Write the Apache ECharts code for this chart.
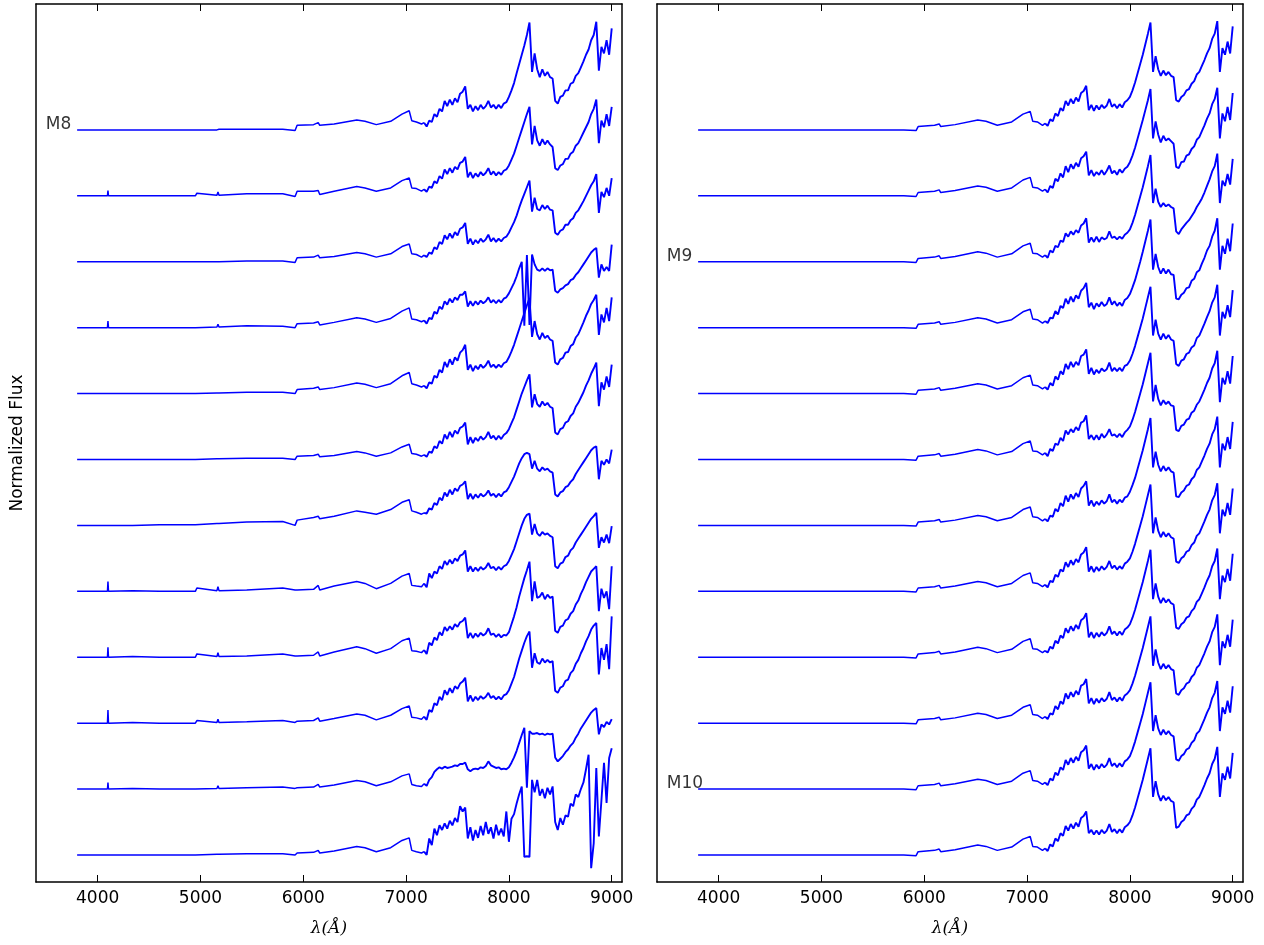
<!DOCTYPE html>
<html>
<head>
<meta charset="utf-8">
<script src="https://cdn.jsdelivr.net/npm/echarts@6/dist/echarts.min.js"></script>
<style>
  html, body { margin: 0; padding: 0; background: #fff; }
  #main { width: 1264px; height: 945px; }
</style>
</head>
<body>
<div id="main"></div>
<script>
// wavelength grid (Angstrom): blue part then red part
var waveBlue = [3800, 4000, 4095, 4100, 4105, 4340, 4600, 4950, 4965, 5160, 5170, 5180, 5450, 5800, 5920,
  5940, 6100, 6145, 6160, 6300, 6520, 6600, 6710, 6850, 6960, 7030, 7055, 7100, 7150, 7175];
var waveRed = [7200, 7225, 7250, 7275, 7300, 7325, 7350, 7375, 7400, 7425,
  7450, 7475, 7500, 7525, 7550, 7575, 7600, 7625, 7650, 7675,
  7700, 7725, 7750, 7775, 7800, 7825, 7850, 7875, 7900, 7925,
  7950, 7975, 8000, 8025, 8050, 8075, 8100, 8125, 8150, 8175,
  8200, 8225, 8250, 8275, 8300, 8325, 8350, 8375, 8400, 8425,
  8450, 8475, 8500, 8525, 8550, 8575, 8600, 8625, 8650, 8675,
  8700, 8725, 8750, 8775, 8800, 8825, 8850, 8875, 8900, 8925,
  8950, 8975, 9000];

var tickValues = [4000, 5000, 6000, 7000, 8000, 9000];

// left panel, top to bottom
var left00 = [0, 0, 0, 0.02, 0, 0, 0, 0, 0.01, 0, 0.02, 0.01, 0.01, 0.01, -0.01, 0.07, 0.08, 0.11, 0.07, 0.09, 0.15, 0.13, 0.08, 0.13, 0.24, 0.29, 0.14, 0.12, 0.09, 0.11,
  0.05,0.14,0.12,0.24,0.20,0.32,0.28,0.44,0.36,0.46,
  0.38,0.48,0.42,0.55,0.58,0.66,0.32,0.38,0.28,0.36,
  0.30,0.38,0.32,0.36,0.44,0.34,0.38,0.32,0.38,0.33,
  0.40,0.42,0.50,0.60,0.71,0.86,1.00,1.14,1.28,1.44,
  1.63,0.88,1.16,0.92,0.80,0.92,0.82,0.88,0.80,0.78,
  0.44,0.40,0.50,0.52,0.60,0.60,0.70,0.72,0.82,0.86,
  0.95,1.04,1.14,1.22,1.36,1.44,1.64,0.90,1.26,1.16,
  1.36,1.14,1.54];
var left01 = [0, 0, 0, 0.08, 0, 0, 0, 0, 0.04, 0.01, 0.06, 0.01, 0.03, 0.03, -0.01, 0.07, 0.07, 0.08, 0.02, 0.07, 0.14, 0.12, 0.07, 0.12, 0.23, 0.27, 0.12, 0.11, 0.07, 0.10,
  0.06,0.14,0.12,0.22,0.19,0.30,0.26,0.40,0.33,0.42,
  0.35,0.44,0.40,0.50,0.52,0.59,0.28,0.36,0.27,0.34,
  0.29,0.36,0.31,0.35,0.42,0.32,0.37,0.31,0.36,0.32,
  0.38,0.40,0.46,0.55,0.64,0.76,0.88,1.00,1.12,1.24,
  1.35,0.78,1.06,0.84,0.76,0.86,0.78,0.84,0.78,0.74,
  0.42,0.39,0.46,0.48,0.56,0.56,0.64,0.67,0.76,0.80,
  0.88,0.96,1.04,1.12,1.24,1.32,1.46,0.80,1.14,1.04,
  1.24,1.06,1.35];
var left02 = [0, 0, 0, 0.01, 0, 0, 0, 0, 0.01, 0, 0.02, 0, 0.01, 0.01, -0.01, 0.06, 0.07, 0.10, 0.06, 0.08, 0.14, 0.12, 0.07, 0.12, 0.23, 0.27, 0.12, 0.11, 0.07, 0.10,
  0.07,0.14,0.12,0.22,0.19,0.30,0.27,0.40,0.34,0.43,
  0.36,0.45,0.40,0.50,0.52,0.59,0.27,0.35,0.26,0.33,
  0.28,0.35,0.30,0.34,0.41,0.31,0.36,0.30,0.35,0.31,
  0.36,0.38,0.44,0.52,0.60,0.70,0.82,0.93,1.03,1.13,
  1.23,0.76,0.97,0.80,0.78,0.86,0.80,0.85,0.79,0.78,
  0.44,0.41,0.47,0.49,0.56,0.56,0.63,0.66,0.74,0.78,
  0.85,0.92,1.00,1.08,1.16,1.22,1.33,0.74,1.06,0.98,
  1.12,1.00,1.27];
var left03 = [0, 0, 0, 0.10, 0, 0, 0, 0, 0.03, 0.01, 0.05, 0.01, 0.03, 0.02, 0.00, 0.06, 0.07, 0.09, 0.04, 0.08, 0.15, 0.13, 0.08, 0.14, 0.25, 0.30, 0.13, 0.12, 0.09, 0.11,
  0.06,0.15,0.13,0.24,0.21,0.32,0.28,0.40,0.35,0.44,
  0.38,0.46,0.42,0.50,0.50,0.55,0.32,0.40,0.33,0.40,
  0.35,0.41,0.37,0.40,0.46,0.38,0.42,0.37,0.42,0.38,
  0.44,0.46,0.52,0.60,0.68,0.78,0.90,1.00,0.03,1.10,
  0.04,1.11,0.96,0.88,0.86,0.90,0.86,0.90,0.87,0.88,
  0.56,0.53,0.58,0.60,0.64,0.66,0.72,0.74,0.80,0.84,
  0.90,0.96,1.02,1.08,1.14,1.18,1.21,0.76,0.96,0.86,
  0.92,0.86,1.26];
var left04 = [0, 0, 0, 0.01, 0, 0, 0, 0, 0.03, 0.01, 0.04, 0.01, 0.02, 0.02, 0, 0.06, 0.08, 0.10, 0.06, 0.09, 0.16, 0.14, 0.09, 0.15, 0.27, 0.32, 0.15, 0.13, 0.10, 0.12,
  0.08,0.17,0.15,0.27,0.24,0.36,0.32,0.48,0.40,0.52,
  0.44,0.55,0.50,0.62,0.66,0.74,0.36,0.44,0.34,0.42,
  0.37,0.44,0.39,0.43,0.50,0.40,0.44,0.39,0.44,0.40,
  0.46,0.48,0.55,0.64,0.74,0.86,0.98,1.10,1.22,1.34,
  1.45,0.86,1.10,0.90,0.82,0.92,0.84,0.88,0.82,0.80,
  0.47,0.44,0.52,0.54,0.62,0.63,0.72,0.75,0.85,0.90,
  0.99,1.08,1.18,1.26,1.36,1.42,1.50,0.89,1.20,1.08,
  1.30,1.10,1.46];
var left05 = [0, 0, 0, 0.01, 0, 0, 0, 0, 0.03, 0.01, 0.04, 0.01, 0.02, 0.02, 0, 0.05, 0.06, 0.08, 0.04, 0.06, 0.12, 0.10, 0.05, 0.10, 0.19, 0.23, 0.09, 0.08, 0.05, 0.07,
  0.04,0.12,0.10,0.20,0.17,0.28,0.24,0.38,0.31,0.42,
  0.34,0.44,0.39,0.48,0.50,0.56,0.23,0.34,0.25,0.33,
  0.28,0.35,0.30,0.34,0.42,0.32,0.36,0.30,0.36,0.31,
  0.37,0.40,0.46,0.55,0.64,0.76,0.88,1.00,1.10,1.20,
  1.29,0.79,0.99,0.84,0.80,0.88,0.82,0.86,0.80,0.78,
  0.41,0.38,0.46,0.48,0.56,0.58,0.66,0.70,0.80,0.86,
  0.94,1.02,1.12,1.20,1.30,1.38,1.47,0.81,1.17,1.06,
  1.26,1.10,1.44];
var left06 = [0, 0, 0, 0.01, 0, 0, 0.01, 0.01, 0.04, 0.03, 0.06, 0.03, 0.05, 0.06, 0.00, 0.08, 0.12, 0.14, 0.10, 0.14, 0.22, 0.20, 0.17, 0.24, 0.35, 0.39, 0.22, 0.20, 0.17, 0.19,
  0.18,0.26,0.24,0.34,0.31,0.42,0.38,0.50,0.44,0.54,
  0.47,0.56,0.52,0.60,0.62,0.67,0.40,0.48,0.40,0.47,
  0.42,0.48,0.44,0.47,0.53,0.45,0.48,0.43,0.48,0.44,
  0.50,0.52,0.58,0.66,0.74,0.84,0.94,1.02,1.08,1.10,
  1.08,0.86,0.98,0.86,0.82,0.88,0.84,0.86,0.82,0.80,
  0.47,0.44,0.50,0.52,0.58,0.60,0.66,0.70,0.78,0.84,
  0.90,0.96,1.02,1.08,1.14,1.18,1.20,0.70,0.98,0.92,
  1.00,0.94,1.15];
var left07 = [0, 0, 0, 0.15, 0, 0.01, 0, 0, 0.05, 0.01, 0.07, 0.01, 0.02, 0.05, 0.02, 0.02, 0.03, 0.09, 0.02, 0.08, 0.15, 0.12, 0.04, 0.12, 0.23, 0.27, 0.09, 0.08, 0.07, 0.12,
  0.06,0.27,0.20,0.30,0.27,0.38,0.34,0.46,0.40,0.48,
  0.42,0.50,0.46,0.54,0.56,0.62,0.30,0.38,0.30,0.36,
  0.31,0.37,0.33,0.36,0.43,0.35,0.37,0.32,0.37,0.33,
  0.38,0.40,0.46,0.55,0.64,0.76,0.88,1.00,1.10,1.16,
  1.18,0.86,1.02,0.88,0.84,0.90,0.86,0.88,0.84,0.82,
  0.38,0.35,0.42,0.44,0.52,0.54,0.62,0.66,0.74,0.80,
  0.86,0.92,0.98,1.04,1.10,1.14,1.19,0.66,0.82,0.74,
  0.86,0.73,0.99];
var left08 = [0, 0, 0, 0.15, 0, 0.01, 0, 0, 0.05, 0.01, 0.07, 0.01, 0.02, 0.05, 0.02, 0.02, 0.03, 0.08, 0.02, 0.08, 0.16, 0.13, 0.06, 0.13, 0.25, 0.29, 0.10, 0.09, 0.07, 0.11,
  0.05,0.22,0.18,0.30,0.26,0.38,0.33,0.46,0.40,0.47,
  0.42,0.50,0.46,0.53,0.55,0.60,0.29,0.37,0.29,0.36,
  0.31,0.37,0.33,0.36,0.44,0.34,0.36,0.31,0.35,0.30,
  0.34,0.33,0.38,0.50,0.62,0.76,0.92,1.06,1.20,1.32,
  1.45,0.85,1.15,0.90,0.92,0.98,0.88,0.95,0.90,0.92,
  0.40,0.37,0.46,0.48,0.56,0.58,0.66,0.70,0.80,0.86,
  0.96,1.04,1.14,1.22,1.30,1.34,1.38,0.70,1.04,0.90,
  1.00,0.73,1.38];
var left09 = [0, 0, 0, 0.20, 0, 0.01, 0, 0, 0.04, 0.01, 0.06, 0.01, 0.02, 0.04, 0.01, 0.03, 0.04, 0.08, 0.03, 0.07, 0.14, 0.12, 0.05, 0.12, 0.22, 0.26, 0.09, 0.08, 0.06, 0.10,
  0.05,0.20,0.17,0.30,0.27,0.40,0.35,0.50,0.43,0.53,
  0.46,0.56,0.52,0.60,0.63,0.69,0.33,0.42,0.33,0.40,
  0.35,0.41,0.37,0.40,0.46,0.38,0.41,0.36,0.40,0.36,
  0.42,0.44,0.50,0.60,0.70,0.84,0.98,1.10,1.22,1.32,
  1.39,0.84,1.06,0.92,0.90,0.98,0.92,0.96,0.92,0.94,
  0.49,0.46,0.54,0.56,0.64,0.66,0.76,0.80,0.90,0.96,
  1.06,1.14,1.24,1.32,1.42,1.48,1.52,0.74,1.14,0.96,
  1.20,0.82,1.62];
var left10 = [0, 0, 0, 0.10, 0, 0.01, 0, 0, 0.03, 0.01, 0.05, 0.01, 0.02, 0.03, 0.01, 0.02, 0.03, 0.07, 0.03, 0.06, 0.13, 0.11, 0.05, 0.11, 0.20, 0.23, 0.07, 0.05, 0.04, 0.08,
  0.05,0.14,0.18,0.26,0.30,0.33,0.31,0.34,0.32,0.33,
  0.34,0.36,0.35,0.38,0.38,0.40,0.30,0.27,0.30,0.31,
  0.30,0.33,0.32,0.35,0.42,0.36,0.34,0.32,0.33,0.30,
  0.31,0.30,0.33,0.40,0.48,0.58,0.70,0.82,0.93,0.02,
  0.88,0.84,0.84,0.85,0.83,0.84,0.82,0.84,0.83,0.84,
  0.48,0.42,0.46,0.50,0.56,0.60,0.66,0.70,0.78,0.84,
  0.92,0.98,1.04,1.10,1.16,1.20,1.23,0.83,0.98,0.94,
  1.02,0.98,1.06];
var left11 = [0, 0, 0, 0.01, 0, 0, 0, 0, 0.02, 0.01, 0.03, 0.01, 0.02, 0.02, 0.00, 0.03, 0.04, 0.07, 0.03, 0.06, 0.13, 0.11, 0.05, 0.11, 0.22, 0.26, 0.07, 0.05, 0.03, 0.05,
  0.00,0.25,0.15,0.40,0.30,0.45,0.38,0.48,0.40,0.52,
  0.45,0.56,0.50,0.74,0.66,0.72,0.25,0.42,0.22,0.38,
  0.26,0.44,0.30,0.50,0.32,0.42,0.25,0.46,0.30,0.40,
  0.28,0.66,0.20,0.55,0.62,0.78,0.92,1.04,-0.03,-0.02,
  -0.03,1.14,0.95,1.14,0.90,1.00,0.86,1.02,0.92,1.04,
  0.50,0.38,0.56,0.46,0.60,0.58,0.78,0.74,0.92,0.88,
  1.00,1.10,1.30,1.52,-0.20,0.18,1.32,0.28,0.83,1.40,
  0.79,1.47,1.62];

// right panel, top to bottom
var right00 = [0, 0, 0, 0.01, 0, 0, 0, 0, 0.01, 0, 0.01, 0, 0, 0, -0.01, 0.05, 0.07, 0.09, 0.05, 0.08, 0.15, 0.13, 0.07, 0.12, 0.24, 0.28, 0.13, 0.12, 0.07, 0.10,
  0.06,0.16,0.13,0.25,0.21,0.33,0.29,0.44,0.37,0.47,
  0.40,0.49,0.43,0.56,0.59,0.67,0.30,0.38,0.29,0.37,
  0.31,0.38,0.33,0.37,0.47,0.35,0.39,0.33,0.39,0.34,
  0.42,0.45,0.50,0.60,0.72,0.86,1.00,1.14,1.30,1.46,
  1.63,0.88,1.12,0.92,0.82,0.90,0.83,0.88,0.82,0.80,
  0.45,0.43,0.50,0.53,0.60,0.62,0.70,0.74,0.84,0.88,
  0.97,1.06,1.16,1.24,1.38,1.46,1.65,0.88,1.24,1.14,
  1.34,1.16,1.57];
var right01 = [0, 0, 0, 0.01, 0, 0, 0, 0, 0.01, 0, 0.01, 0, 0, 0, -0.01, 0.05, 0.07, 0.09, 0.05, 0.08, 0.15, 0.13, 0.07, 0.12, 0.24, 0.28, 0.13, 0.12, 0.07, 0.10,
  0.05,0.15,0.12,0.26,0.22,0.34,0.28,0.45,0.36,0.48,
  0.41,0.50,0.44,0.57,0.60,0.67,0.31,0.39,0.30,0.36,
  0.32,0.39,0.32,0.38,0.46,0.34,0.38,0.32,0.40,0.35,
  0.41,0.44,0.51,0.61,0.73,0.87,1.01,1.15,1.30,1.45,
  1.62,0.87,1.13,0.93,0.81,0.91,0.84,0.87,0.83,0.79,
  0.44,0.42,0.51,0.52,0.61,0.63,0.71,0.75,0.85,0.89,
  0.98,1.07,1.17,1.25,1.39,1.47,1.64,0.87,1.25,1.13,
  1.35,1.15,1.56];
var right02 = [0, 0, 0, 0.01, 0, 0, 0, 0, 0.01, 0, 0.01, 0, 0, 0, -0.01, 0.05, 0.07, 0.09, 0.05, 0.08, 0.15, 0.13, 0.07, 0.12, 0.24, 0.28, 0.13, 0.12, 0.07, 0.10,
  0.06,0.17,0.14,0.24,0.22,0.32,0.30,0.43,0.38,0.46,
  0.41,0.48,0.44,0.55,0.58,0.66,0.29,0.37,0.30,0.38,
  0.30,0.37,0.34,0.36,0.46,0.36,0.38,0.34,0.38,0.35,
  0.41,0.44,0.49,0.59,0.71,0.85,0.99,1.13,1.29,1.45,
  1.62,0.89,1.11,0.91,0.83,0.89,0.84,0.87,0.83,0.81,
  0.46,0.42,0.49,0.54,0.59,0.63,0.69,0.75,0.83,0.89,
  0.96,1.05,1.15,1.25,1.37,1.45,1.64,0.89,1.23,1.15,
  1.33,1.17,1.56];
var right03 = [0, 0, 0, 0.01, 0, 0, 0, 0, 0.01, 0, 0.01, 0, 0, 0, -0.01, 0.05, 0.07, 0.09, 0.05, 0.08, 0.15, 0.13, 0.07, 0.12, 0.24, 0.28, 0.13, 0.12, 0.07, 0.10,
  0.07,0.15,0.14,0.25,0.20,0.33,0.30,0.44,0.36,0.47,
  0.39,0.49,0.44,0.56,0.60,0.68,0.31,0.38,0.28,0.37,
  0.32,0.39,0.33,0.36,0.46,0.35,0.40,0.33,0.38,0.33,
  0.42,0.45,0.51,0.61,0.72,0.86,1.00,1.15,1.31,1.47,
  1.64,0.88,1.12,0.92,0.82,0.90,0.82,0.88,0.81,0.80,
  0.44,0.43,0.50,0.53,0.60,0.61,0.71,0.74,0.84,0.87,
  0.97,1.06,1.17,1.24,1.38,1.47,1.66,0.88,1.24,1.12,
  1.35,1.16,1.58];
var right04 = [0, 0, 0, 0.01, 0, 0, 0, 0, 0.01, 0, 0.01, 0, 0, 0, -0.01, 0.05, 0.07, 0.09, 0.05, 0.08, 0.15, 0.13, 0.07, 0.12, 0.24, 0.28, 0.13, 0.12, 0.07, 0.10,
  0.06,0.16,0.12,0.26,0.21,0.34,0.29,0.45,0.37,0.48,
  0.40,0.48,0.43,0.57,0.59,0.67,0.30,0.39,0.29,0.36,
  0.31,0.38,0.34,0.37,0.47,0.34,0.39,0.34,0.39,0.34,
  0.42,0.44,0.50,0.60,0.72,0.86,1.00,1.14,1.30,1.46,
  1.62,0.88,1.12,0.91,0.82,0.91,0.83,0.89,0.82,0.80,
  0.45,0.42,0.50,0.52,0.60,0.62,0.70,0.73,0.84,0.88,
  0.97,1.06,1.16,1.25,1.38,1.46,1.65,0.88,1.24,1.14,
  1.34,1.16,1.57];
var right05 = [0, 0, 0, 0.01, 0, 0, 0, 0, 0.01, 0, 0.01, 0, 0, 0, -0.01, 0.05, 0.07, 0.09, 0.05, 0.08, 0.15, 0.13, 0.07, 0.12, 0.24, 0.28, 0.13, 0.12, 0.07, 0.10,
  0.05,0.16,0.13,0.24,0.22,0.33,0.28,0.44,0.38,0.46,
  0.41,0.49,0.44,0.56,0.58,0.67,0.31,0.37,0.30,0.37,
  0.30,0.39,0.33,0.38,0.46,0.36,0.38,0.34,0.39,0.34,
  0.41,0.45,0.50,0.60,0.72,0.86,1.00,1.14,1.30,1.46,
  1.62,0.88,1.13,0.92,0.82,0.90,0.84,0.88,0.82,0.81,
  0.45,0.43,0.51,0.53,0.60,0.62,0.71,0.74,0.83,0.88,
  0.97,1.06,1.16,1.24,1.38,1.46,1.65,0.87,1.24,1.14,
  1.34,1.15,1.57];
var right06 = [0, 0, 0, 0.01, 0, 0, 0, 0, 0.01, 0, 0.01, 0, 0, 0, -0.01, 0.05, 0.07, 0.09, 0.05, 0.08, 0.15, 0.13, 0.07, 0.12, 0.24, 0.28, 0.13, 0.12, 0.07, 0.10,
  0.06,0.15,0.13,0.25,0.21,0.34,0.29,0.45,0.36,0.47,
  0.40,0.49,0.43,0.56,0.60,0.67,0.30,0.38,0.29,0.36,
  0.31,0.38,0.33,0.37,0.47,0.35,0.39,0.33,0.39,0.35,
  0.42,0.44,0.51,0.61,0.72,0.86,1.00,1.14,1.30,1.46,
  1.63,0.88,1.12,0.92,0.82,0.90,0.83,0.88,0.82,0.80,
  0.44,0.43,0.50,0.53,0.60,0.62,0.70,0.74,0.84,0.88,
  0.97,1.06,1.16,1.24,1.38,1.46,1.65,0.88,1.24,1.14,
  1.34,1.16,1.57];
var right07 = [0, 0, 0, 0.01, 0, 0, 0, 0, 0.01, 0, 0.01, 0, 0, 0, -0.01, 0.05, 0.07, 0.09, 0.05, 0.08, 0.15, 0.13, 0.07, 0.12, 0.24, 0.28, 0.13, 0.12, 0.07, 0.10,
  0.06,0.16,0.14,0.25,0.22,0.33,0.30,0.44,0.37,0.47,
  0.40,0.49,0.44,0.56,0.59,0.67,0.30,0.38,0.29,0.37,
  0.31,0.38,0.33,0.37,0.46,0.35,0.39,0.33,0.38,0.34,
  0.42,0.45,0.50,0.60,0.72,0.86,1.00,1.14,1.30,1.46,
  1.62,0.88,1.12,0.92,0.82,0.90,0.83,0.88,0.82,0.80,
  0.45,0.43,0.50,0.53,0.60,0.62,0.70,0.74,0.84,0.88,
  0.97,1.06,1.16,1.24,1.38,1.46,1.64,0.88,1.24,1.14,
  1.34,1.16,1.56];
var right08 = [0, 0, 0, 0.01, 0, 0, 0, 0, 0.01, 0, 0.01, 0, 0, 0, -0.01, 0.05, 0.07, 0.09, 0.05, 0.08, 0.15, 0.13, 0.07, 0.12, 0.24, 0.28, 0.13, 0.12, 0.07, 0.10,
  0.07,0.16,0.13,0.25,0.21,0.33,0.29,0.44,0.37,0.47,
  0.40,0.49,0.43,0.56,0.59,0.67,0.30,0.38,0.29,0.37,
  0.31,0.38,0.33,0.37,0.47,0.35,0.39,0.33,0.39,0.34,
  0.42,0.45,0.50,0.60,0.72,0.86,1.00,1.14,1.30,1.46,
  1.63,0.88,1.12,0.92,0.82,0.90,0.83,0.88,0.82,0.80,
  0.45,0.43,0.50,0.53,0.60,0.62,0.70,0.74,0.84,0.88,
  0.97,1.06,1.16,1.24,1.38,1.46,1.65,0.88,1.24,1.14,
  1.34,1.16,1.57];
var right09 = [0, 0, 0, 0.01, 0, 0, 0, 0, 0.01, 0, 0.01, 0, 0, 0, -0.01, 0.05, 0.07, 0.09, 0.05, 0.08, 0.15, 0.13, 0.07, 0.12, 0.24, 0.28, 0.13, 0.12, 0.07, 0.10,
  0.06,0.15,0.13,0.26,0.21,0.33,0.29,0.45,0.37,0.47,
  0.40,0.49,0.43,0.57,0.59,0.67,0.30,0.38,0.29,0.37,
  0.31,0.38,0.33,0.37,0.47,0.35,0.39,0.33,0.39,0.34,
  0.42,0.45,0.50,0.60,0.72,0.86,1.00,1.14,1.30,1.46,
  1.62,0.87,1.12,0.92,0.82,0.90,0.83,0.88,0.82,0.80,
  0.45,0.43,0.50,0.53,0.60,0.62,0.70,0.74,0.84,0.88,
  0.97,1.06,1.16,1.24,1.38,1.46,1.65,0.88,1.24,1.14,
  1.34,1.16,1.57];
var right10 = [0, 0, 0, 0.01, 0, 0, 0, 0, 0.01, 0, 0.01, 0, 0, 0, -0.01, 0.05, 0.07, 0.09, 0.05, 0.08, 0.15, 0.13, 0.07, 0.12, 0.24, 0.28, 0.13, 0.12, 0.07, 0.10,
  0.06,0.16,0.13,0.25,0.21,0.33,0.29,0.44,0.37,0.47,
  0.40,0.49,0.43,0.56,0.59,0.66,0.31,0.38,0.29,0.37,
  0.31,0.38,0.33,0.37,0.47,0.35,0.39,0.33,0.39,0.34,
  0.42,0.45,0.50,0.60,0.72,0.86,1.00,1.14,1.30,1.46,
  1.62,0.88,1.12,0.92,0.82,0.90,0.83,0.88,0.82,0.80,
  0.45,0.43,0.50,0.53,0.60,0.62,0.70,0.74,0.84,0.88,
  0.97,1.06,1.16,1.24,1.38,1.46,1.64,0.88,1.24,1.14,
  1.34,1.16,1.56];
var right11 = [0, 0, 0, 0.01, 0, 0, 0, 0, 0.01, 0, 0.01, 0, 0, 0, -0.01, 0.05, 0.07, 0.09, 0.05, 0.08, 0.15, 0.13, 0.07, 0.12, 0.24, 0.28, 0.13, 0.12, 0.07, 0.10,
  0.06,0.16,0.13,0.25,0.21,0.33,0.29,0.44,0.37,0.47,
  0.40,0.49,0.43,0.56,0.59,0.66,0.33,0.38,0.31,0.37,
  0.31,0.38,0.33,0.37,0.47,0.35,0.39,0.33,0.39,0.34,
  0.42,0.45,0.50,0.60,0.72,0.86,1.00,1.14,1.30,1.46,
  1.62,0.88,1.12,0.92,0.82,0.90,0.83,0.88,0.82,0.80,
  0.41,0.43,0.50,0.53,0.60,0.62,0.70,0.74,0.84,0.88,
  0.97,1.06,1.16,1.24,1.38,1.46,1.64,0.88,1.24,1.14,
  1.34,1.16,1.55];

var leftSpectra = [left00, left01, left02, left03, left04, left05, left06, left07, left08, left09, left10, left11];
var rightSpectra = [right00, right01, right02, right03, right04, right05, right06, right07, right08, right09, right10, right11];

// spectral type labels: text, panel, row (0 = top)
var labelText = ['M8', 'M9', 'M10'];
var labelPanel = [0, 1, 1];
var labelRow = [0, 2, 10];
var labelWave = 3500;

var wave = waveBlue.concat(waveRed);
var nRows = 12;
var split = waveBlue.length - 1; // red part drawn from here on
function offset(row) { return 0.41 + (nRows - 1 - row); }

var chart = echarts.init(document.getElementById('main'), null, { renderer: 'canvas' });

var series = [];
[leftSpectra, rightSpectra].forEach(function (list, p) {
  list.forEach(function (flux, r) {
    var blue = [], red = [];
    for (var k = 0; k < wave.length && k < flux.length; k++) {
      var pt = [wave[k], flux[k] + offset(r)];
      if (k <= split) blue.push(pt);
      if (k >= split) red.push(pt);
    }
    // quiet blue end and noisy red end of the same spectrum
    [[blue, 1.5], [red, 1.9]].forEach(function (part) {
      series.push({
        type: 'line',
        xAxisIndex: p * 2,
        yAxisIndex: p * 2,
        data: part[0],
        showSymbol: false,
        symbol: 'none',
        silent: true,
        lineStyle: { color: '#0000ff', width: part[1] }
      });
    });
  });
});

[0, 1].forEach(function (p) {
  var pts = [];
  labelText.forEach(function (t, i) {
    if (labelPanel[i] === p) pts.push({ name: t, value: [labelWave, offset(labelRow[i])] });
  });
  series.push({
    type: 'scatter',
    xAxisIndex: p * 2,
    yAxisIndex: p * 2,
    symbolSize: 1,
    itemStyle: { color: 'rgba(0,0,0,0)' },
    silent: true,
    data: pts,
    label: {
      show: true,
      formatter: '{b}',
      position: [0, 0],
      align: 'left',
      verticalAlign: 'bottom',
      offset: [0, 4],
      color: '#000',
      fontSize: 17,
      fontFamily: 'DejaVu Sans'
    }
  });
});

var frame = { show: true, onZero: false, lineStyle: { color: '#000', width: 1.5 } };
var labelFont = { color: '#000', fontSize: 17, fontFamily: 'DejaVu Sans' };

function bottomAxis(g) {
  return {
    gridIndex: g, type: 'value', position: 'bottom', min: 3400, max: 9100,
    axisLine: frame,
    axisTick: { show: true, inside: true, length: 7, customValues: tickValues, lineStyle: { color: '#000', width: 1 } },
    axisLabel: Object.assign({ customValues: tickValues, margin: 8, formatter: function (v) { return String(v); } }, labelFont),
    splitLine: { show: false },
    name: 'λ(Å)', nameLocation: 'middle', nameGap: 38,
    nameTextStyle: { color: '#000', fontSize: 17, fontFamily: 'DejaVu Serif', fontStyle: 'italic' }
  };
}
function topAxis(g) {
  return {
    gridIndex: g, type: 'value', position: 'top', min: 3400, max: 9100,
    axisLine: frame,
    axisTick: { show: true, inside: true, length: 7, customValues: tickValues, lineStyle: { color: '#000', width: 1 } },
    axisLabel: { show: false },
    splitLine: { show: false }
  };
}
function sideAxis(g, pos, name) {
  return {
    gridIndex: g, type: 'value', position: pos, min: 0, max: 13.32,
    axisLine: frame, axisTick: { show: false }, axisLabel: { show: false }, splitLine: { show: false },
    name: name || '', nameLocation: 'middle', nameGap: 10, nameRotate: 90,
    nameTextStyle: labelFont
  };
}

chart.setOption({
  backgroundColor: '#fff',
  animation: false,
  grid: [
    { left: 36, top: 4, width: 586, bottom: 63 },
    { left: 657, top: 4, width: 586, bottom: 63 }
  ],
  xAxis: [bottomAxis(0), topAxis(0), bottomAxis(1), topAxis(1)],
  yAxis: [sideAxis(0, 'left', 'Normalized Flux'), sideAxis(0, 'right'), sideAxis(1, 'left'), sideAxis(1, 'right')],
  series: series
});
</script>
</body>
</html>
